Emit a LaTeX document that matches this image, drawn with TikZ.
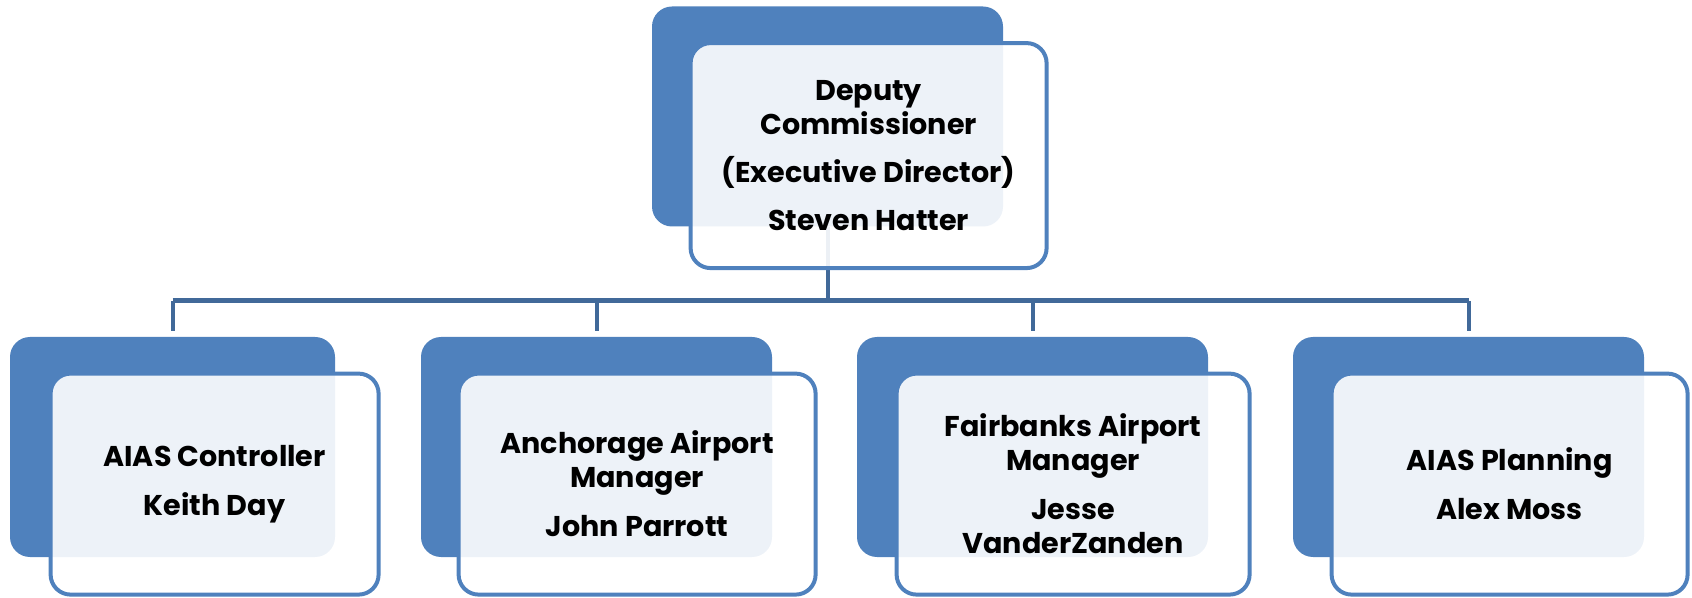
\documentclass[tikz,border=0pt]{standalone}
\usepackage{fontspec}
\setmainfont{Poppins}
\usepackage{tikz}
\usetikzlibrary{positioning, backgrounds}

\definecolor{boxblue}{RGB}{79,129,189}
\definecolor{linkblue}{RGB}{65,105,153}

\tikzset{
  darkbox/.style={fill=boxblue, rounded corners=10pt, minimum height=110pt, inner sep=0pt},
  frontbox/.style={draw=boxblue, line width=2pt, fill=white, fill opacity=0.9, text opacity=1,
    rounded corners=10pt, minimum height=110.5pt, inner sep=0pt, align=center,
    font=\fontsize{14.3}{17}\selectfont\bfseries, anchor=north west},
  link/.style={draw=linkblue, line width=2pt},
}

\begin{document}
\begin{tikzpicture}
    \useasboundingbox (0,0) rectangle (846pt,-299pt);

    % Top box
    \node[darkbox, minimum width=175.5pt] (d0) at (413.75pt,-58.25pt) {};
    \node[frontbox, minimum width=178pt, minimum height=112.5pt] (f0)
      at ([shift={(18.5pt,-17.5pt)}]d0.north west)
      {Deputy\\Commissioner\\[7pt](Executive Director)\\[7pt]Steven Hatter};

    % Bottom row
    \node[darkbox, minimum width=162.5pt] (d1) at (86.25pt,-223.5pt) {};
    \node[darkbox, minimum width=175.5pt] (d2) at (298.25pt,-223.5pt) {};
    \node[darkbox, minimum width=175.5pt] (d3) at (516.25pt,-223.5pt) {};
    \node[darkbox, minimum width=175.5pt] (d4) at (734.25pt,-223.5pt) {};

    \node[frontbox, minimum width=164pt] (f1) at ([shift={(19.5pt,-17.5pt)}]d1.north west)
      {AIAS Controller\\[7.5pt]Keith Day};
    \node[frontbox, minimum width=178.5pt] (f2) at ([shift={(18pt,-17.5pt)}]d2.north west)
      {Anchorage Airport\\Manager\\[7.5pt]John Parrott};
    \node[frontbox, minimum width=176.5pt] (f3) at ([shift={(19pt,-17.5pt)}]d3.north west)
      {Fairbanks Airport\\Manager\\[7.5pt]Jesse\\VanderZanden};
    \node[frontbox, minimum width=178pt] (f4) at ([shift={(18.5pt,-17.5pt)}]d4.north west)
      {AIAS Planning\\[7.5pt]Alex Moss};

    % Connectors
    \coordinate (bus) at (0,-150.5pt);
    \begin{scope}[on background layer]
      \draw[link] (d0.south) -- (d0.south |- bus);
      \draw[link, line width=2.5pt] (d1.north |- bus) -- (d4.north |- bus);
      \foreach \n in {1,...,4}
        \draw[link] (d\n.north |- bus) -- ([yshift=3pt]d\n.north);
    \end{scope}
\end{tikzpicture}
\end{document}
